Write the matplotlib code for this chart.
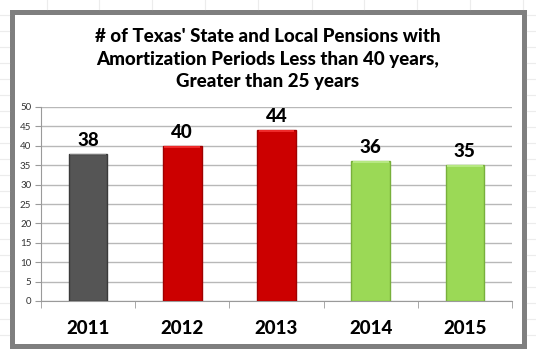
import matplotlib.pyplot as plt
from matplotlib.patches import Rectangle
from matplotlib.lines import Line2D

years = ['2011', '2012', '2013', '2014', '2015']
counts = [38, 40, 44, 36, 35]
colors = ['#555555', '#cc0000', '#cc0000', '#9bd956', '#9bd956']
edges = ['#3a3a3a', '#a00000', '#a00000', '#78b03c', '#78b03c']
tops = ['#7a7a7a', '#ee2a2a', '#ee2a2a', '#b6e882', '#b6e882']

title = "# of Texas' State and Local Pensions with\nAmortization Periods Less than 40 years,\nGreater than 25 years"

plt.rcParams['font.family'] = ['Lato', 'DejaVu Sans']

fig = plt.figure(figsize=(5.36, 3.58), dpi=100)
fig.patch.set_facecolor('white')

# faint spreadsheet cells behind the chart
for x in [47, 99, 152, 205, 258, 312, 364, 417, 470, 523]:
    fig.add_artist(Line2D([x / 536, x / 536], [1, 1 - 9 / 358], color='#ececec', lw=0.8))
for y in range(15, 345, 16):
    fig.add_artist(Line2D([0, 9 / 536], [1 - y / 358, 1 - y / 358], color='#ececec', lw=0.8))
    fig.add_artist(Line2D([527 / 536, 1], [1 - y / 358, 1 - y / 358], color='#ececec', lw=0.8))

# chart frame
fig.add_artist(Rectangle((11.5 / 536, 1 - 345.5 / 358), 512 / 536, 334 / 358,
                         transform=fig.transFigure, fill=False, edgecolor='#7f7f7f', lw=3.6))

ax = fig.add_axes([41 / 536, 57 / 358, 471 / 536, 194 / 358])
x = range(len(years))
ax.bar(x, counts, width=0.41, color=colors, edgecolor=edges, linewidth=1, zorder=3)
ax.bar(x, [0.45] * len(counts), bottom=[c - 0.45 for c in counts], width=0.38,
       color=tops, linewidth=0, zorder=4)

for i, c in enumerate(counts):
    ax.text(i, c + 1.3, str(c), ha='center', va='bottom', fontsize=13.5,
            fontweight='black', color='black')

ax.set_xlim(-0.5, len(years) - 0.5)
ax.set_ylim(0, 50)
ax.set_yticks(range(0, 51, 5))
ax.yaxis.grid(True, color='#b8b8b8', lw=1)
ax.set_axisbelow(True)
ax.set_xticks(x)
ax.set_xticklabels(years, fontsize=13.5, fontweight='black')
ax.set_xticks([i - 0.5 for i in range(len(years) + 1)], minor=True)
ax.tick_params(axis='x', which='major', length=0, pad=14)
ax.tick_params(axis='x', which='minor', length=5, color='#9a9a9a')
ax.tick_params(axis='y', length=4, color='#9a9a9a', labelsize=7, labelcolor='#333333', pad=3)
for s in ['top', 'right']:
    ax.spines[s].set_visible(False)
ax.spines['left'].set_color('#9a9a9a')
ax.spines['bottom'].set_color('#9a9a9a')

fig.text(268 / 536, 1 - 59 / 358, title, ha='center', va='center', fontsize=13.5,
         fontweight='black', linespacing=1.4)

fig.savefig('out.png', dpi=100)
